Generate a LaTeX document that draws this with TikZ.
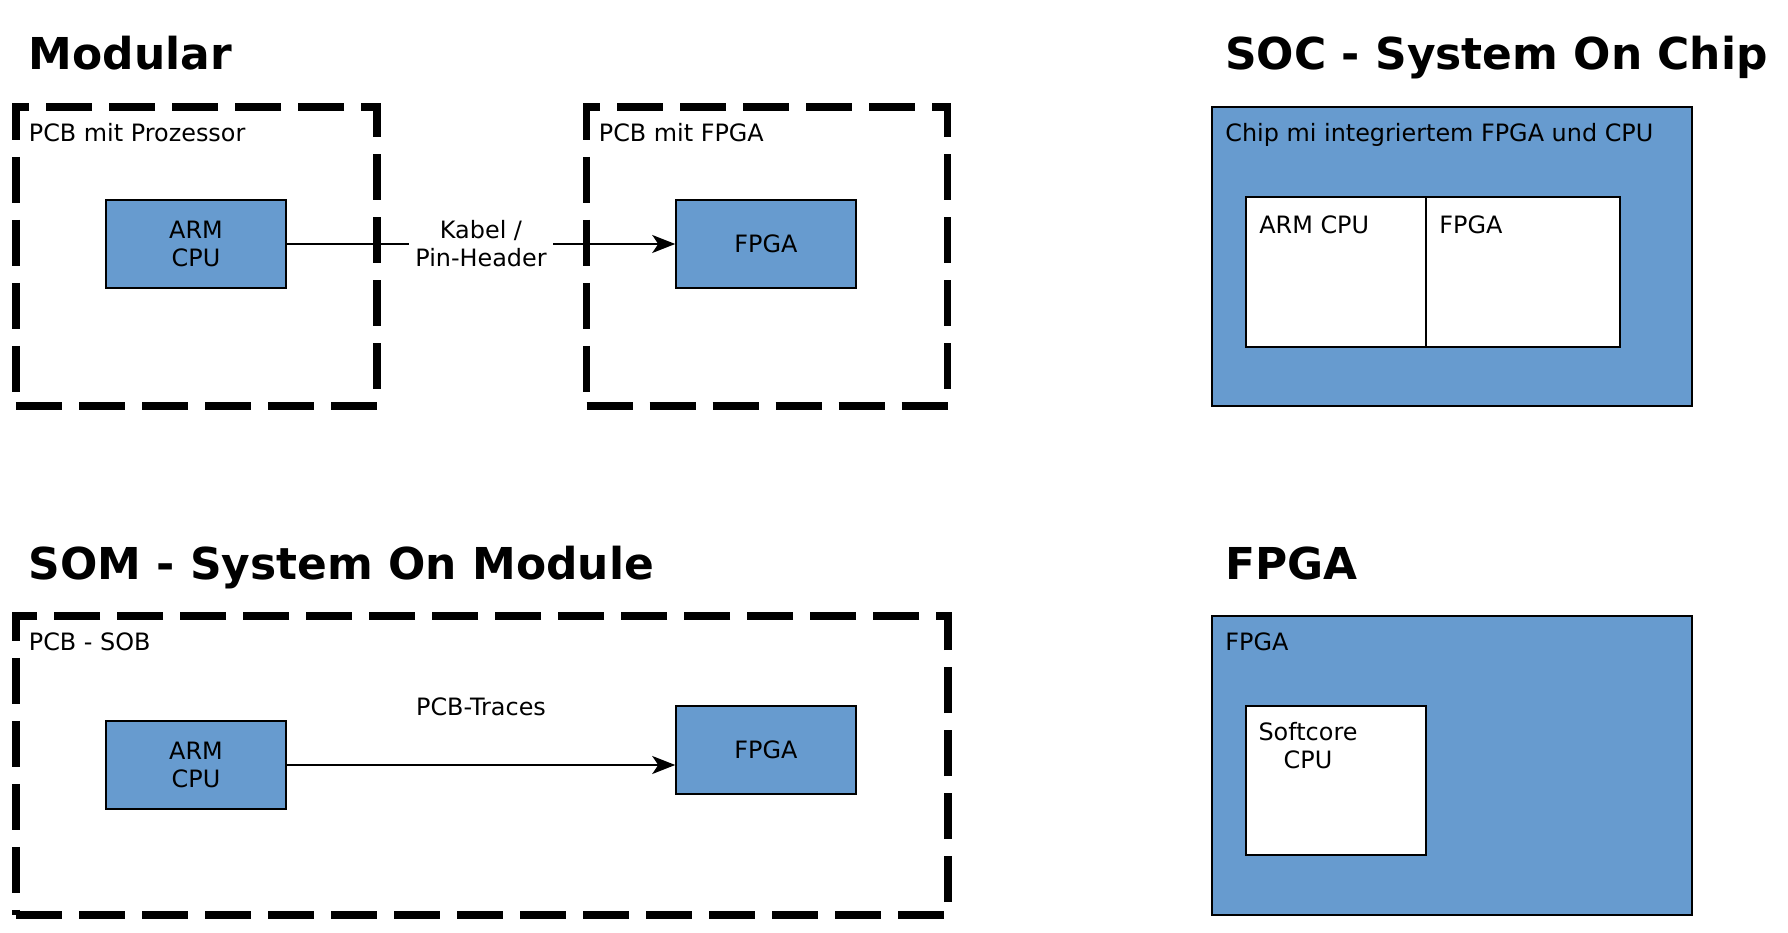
\documentclass[tikz,border=0pt]{standalone}
\usepackage{fontspec}
\setmainfont{DejaVu Sans}
\usetikzlibrary{arrows.meta}

\definecolor{chipblue}{RGB}{103,155,207}

\tikzset{
    heading/.style={anchor=base west, inner sep=0pt, font=\fontsize{25}{30}\selectfont\bfseries},
    boxlabel/.style={anchor=base west, inner sep=0pt, font=\fontsize{13.6}{15.9}\selectfont},
    pcb/.style={rectangle, draw, line width=4pt, dash pattern=on 0.92cm off 0.34cm, inner sep=0pt, minimum height=5.98cm},
    chip/.style={rectangle, draw, line width=0.9pt, fill=chipblue, inner sep=0pt, minimum width=9.6cm, minimum height=5.98cm},
    block/.style={rectangle, draw, line width=0.9pt, fill=chipblue, minimum width=3.6cm, minimum height=1.76cm, align=center, font=\fontsize{13.6}{15.9}\selectfont},
    cell/.style={rectangle, draw, line width=0.9pt, fill=white, inner sep=0pt, minimum height=3cm},
    link/.style={line width=1pt, -{Stealth[length=0.46cm, width=0.36cm, inset=0.12cm]}}
}

\begin{document}
\begin{tikzpicture}
    \useasboundingbox (0, 0) rectangle (35.76, 18.64);

    \node[heading] (Modular_title) at (0.57, 17.24) {Modular};
    \node[heading] (SOC_title) at (24.5, 17.24) {SOC - System On Chip};
    \node[heading] (SOM_title) at (0.57, 7.04) {SOM - System On Module};
    \node[heading] (FPGA_title) at (24.5, 7.04) {FPGA};

    \node[pcb, minimum width=7.22cm] (PCB_CPU) at (3.93, 13.51) {};
    \node[pcb, minimum width=7.22cm] (PCB_FPGA) at (15.34, 13.51) {};
    \node[pcb, minimum width=18.64cm] (PCB_SOM) at (9.64, 3.33) {};
    \node[chip] (SOC) at (29.04, 13.51) {};
    \node[chip] (FPGA_chip) at (29.04, 3.33) {};

    \node[boxlabel] (PCB_CPU_label) at (0.57, 15.8) {PCB mit Prozessor};
    \node[boxlabel] (PCB_FPGA_label) at (11.97, 15.8) {PCB mit FPGA};
    \node[boxlabel] (PCB_SOM_label) at (0.57, 5.62) {PCB - SOB};
    \node[boxlabel] (SOC_label) at (24.5, 15.8) {Chip mi integriertem FPGA und CPU};
    \node[boxlabel] (FPGA_chip_label) at (24.5, 5.62) {FPGA};

    \node[block] (CPU_mod) at (3.92, 13.76) {ARM\\CPU};
    \node[block] (FPGA_mod) at (15.32, 13.76) {FPGA};
    \node[block] (CPU_som) at (3.92, 3.34) {ARM\\CPU};
    \node[block] (FPGA_som) at (15.32, 3.64) {FPGA};

    \node[cell, minimum width=3.6cm] (SOC_CPU) at (26.72, 13.2) {};
    \node[cell, minimum width=3.88cm] (SOC_FPGA) at (30.46, 13.2) {};
    \node[cell, minimum width=3.6cm, minimum height=2.98cm] (Softcore) at (26.72, 3.03) {};

    \node[boxlabel] (SOC_CPU_label) at (25.18, 13.96) {ARM CPU};
    \node[boxlabel] (SOC_FPGA_label) at (28.78, 13.96) {FPGA};
    \node[boxlabel, anchor=north, align=center] (Softcore_label) at (26.16, 4.2) {Softcore\\CPU};

    \draw[link] (CPU_mod) -- node[fill=white, align=center, font=\fontsize{13.6}{15.9}\selectfont] {Kabel /\\Pin-Header} (FPGA_mod);
    \draw[link] (CPU_som.east) -- node[above=0.85cm, font=\fontsize{13.6}{15.9}\selectfont] {PCB-Traces} (CPU_som.east -| FPGA_som.west);

\end{tikzpicture}
\end{document}
